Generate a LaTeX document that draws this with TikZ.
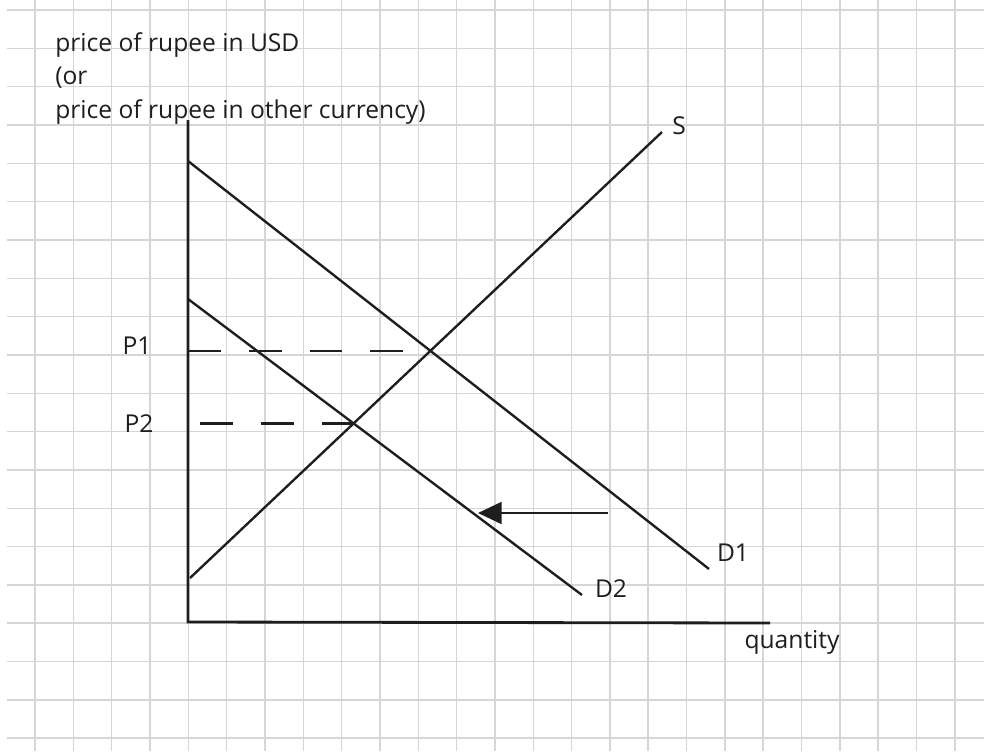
\documentclass[tikz,border=0pt]{standalone}
\usepackage{fontspec}
\setmainfont{Open Sans}
\usetikzlibrary{arrows.meta, calc}
\definecolor{gridgray}{RGB}{214,214,214}
\definecolor{ink}{RGB}{30,30,30}
\tikzset{
  curve/.style={draw=ink, line width=1.35pt},
  axis/.style={draw=ink, line width=1.6pt},
  pricelevel/.style={draw=ink, line width=1.4pt, dash pattern=on 18.7pt off 15.9pt},
  lbl/.style={font=\fontsize{14}{16}\selectfont, text=ink, inner sep=0pt, anchor=base},
  title/.style={lbl, anchor=base west}
}
\begin{document}
\begin{tikzpicture}[x=0.02cm, y=-0.02cm]
        \useasboundingbox (0,0) rectangle (984,751);

        % Grid paper
        \fill[white] (0,0) rectangle (984,751);
        \foreach \i in {0,...,24} {
            \draw[gridgray, line width=0.9pt] (35+\i*38.33,0) -- (35+\i*38.33,751);
        }
        \foreach \j in {0,...,19} {
            \draw[gridgray, line width=0.9pt] (7,10+\j*38.33) -- (984,10+\j*38.33);
        }

        % Axes
        \coordinate (origin) at (188,622);
        \coordinate (ytop) at (188,120);
        \coordinate (xend) at (770,623);
        \draw[axis] (ytop) -- (origin) -- (xend);

        % Supply and demand curves
        \coordinate (d1start) at (188,161);
        \coordinate (d1end) at (709,569);
        \coordinate (d2start) at (188,299);
        \coordinate (d2end) at (582,595);
        \coordinate (sstart) at (190,578);
        \coordinate (send) at (662,132);
        \draw[curve] (d1start) -- (d1end);
        \draw[curve] (d2start) -- (d2end);
        \draw[curve] (sstart) -- (send);

        % Equilibrium prices
        \coordinate (p1) at (intersection of d1start--d1end and sstart--send);
        \coordinate (p2) at (intersection of d2start--d2end and sstart--send);
        \draw[pricelevel] (origin |- p1) -- (p1);
        \draw[pricelevel] ($(origin |- p2)+(12,0)$) -- (p2);

        % Shift of demand
        \coordinate (shiftfrom) at (608,513);
        \coordinate (shiftto) at (478,513);
        \draw[curve, -{Triangle[length=13.5pt, width=12.5pt]}] (shiftfrom) -- (shiftto);

        % Labels
        \node[title] (ytitle1) at (55,51) {price of rupee in USD};
        \node[title] (ytitle2) at (55,84) {(or};
        \node[title] (ytitle3) at (55,118) {price of rupee in other currency)};
        \node[lbl] (p1lab) at (137,354) {P1};
        \node[lbl] (p2lab) at (139,432) {P2};
        \node[lbl] (slab) at (679,134) {S};
        \node[lbl] (d1lab) at (733,561) {D1};
        \node[lbl] (d2lab) at (611,597) {D2};
        \node[lbl] (qlab) at (792,648) {quantity};

    \end{tikzpicture}
\end{document}
